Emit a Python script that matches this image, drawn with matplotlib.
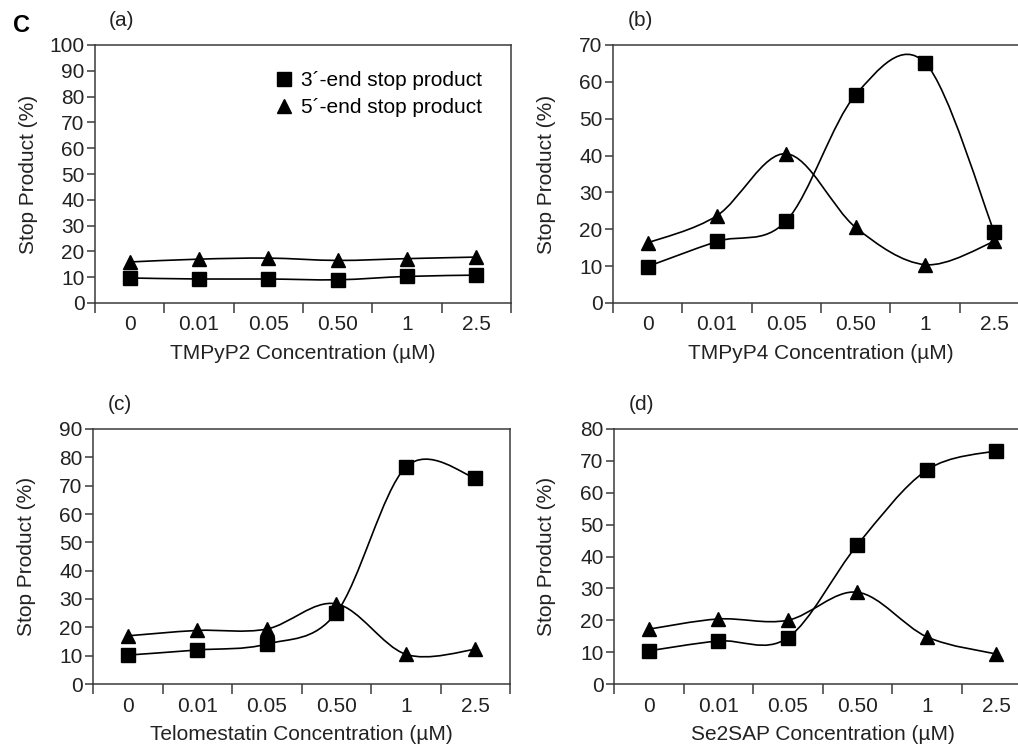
import matplotlib

matplotlib.use("Agg")
import matplotlib.pyplot as plt
import numpy as np
from matplotlib.path import Path
from matplotlib.patches import PathPatch

plt.rcParams["font.family"] = ["Liberation Sans", "DejaVu Sans"]
plt.rcParams["font.size"] = 15

# categories shared by all four panels
conc_labels = ["0", "0.01", "0.05", "0.50", "1", "2.5"]

# (a) TMPyP2
tmpyp2_3end = [9.7, 9.3, 9.3, 9.0, 10.3, 10.8]
tmpyp2_5end = [15.9, 17.0, 17.4, 16.5, 17.2, 17.8]
# (b) TMPyP4
tmpyp4_3end = [9.9, 16.7, 22.3, 56.5, 65.2, 19.2]
tmpyp4_5end = [16.3, 23.7, 40.5, 20.5, 10.4, 16.7]
# (c) Telomestatin
telo_3end = [10.2, 12.0, 14.1, 25.1, 76.5, 72.8]
telo_5end = [17.0, 18.9, 19.4, 28.3, 10.5, 12.2]
# (d) Se2SAP
se2sap_3end = [10.4, 13.5, 14.5, 43.6, 67.1, 73.2]
se2sap_5end = [17.2, 20.4, 20.0, 28.8, 14.8, 9.4]

panels = [
    ("(a)", "TMPyP2 Concentration (µM)", tmpyp2_3end, tmpyp2_5end, 100),
    ("(b)", "TMPyP4 Concentration (µM)", tmpyp4_3end, tmpyp4_5end, 70),
    ("(c)", "Telomestatin Concentration (µM)", telo_3end, telo_5end, 90),
    ("(d)", "Se2SAP Concentration (µM)", se2sap_3end, se2sap_5end, 80),
]

# layout in figure pixels: axes box (left, top, right, bottom), y-label centre x
W, H = 1018, 744
boxes = [(95, 45, 511, 303), (613, 45, 1029, 303),
         (93, 429, 510, 684), (614, 429, 1031, 684)]
ylab_x = [29, 547, 27, 547]
XLAB_GAP = 41   # axis bottom -> top of x-label box

SPINE = "#3a3a3a"
TEXT = "#222222"


def smooth_patch(x, y):
    """Catmull-Rom style smoothed line through the points, drawn as cubic Beziers."""
    p = np.column_stack([x, y]).astype(float)
    n = len(p)
    verts = [p[0]]
    codes = [Path.MOVETO]
    for i in range(n - 1):
        p0 = p[i - 1] if i > 0 else p[i]
        p3 = p[i + 2] if i + 2 < n else p[i + 1]
        c1 = p[i] + (p[i + 1] - p0) / 6
        c2 = p[i + 1] - (p3 - p[i]) / 6
        verts += [c1, c2, p[i + 1]]
        codes += [Path.CURVE4] * 3
    return PathPatch(Path(verts, codes), fill=False, lw=1.2, ec="black", zorder=2)


fig = plt.figure(figsize=(W / 100, H / 100), dpi=100)

for k, ((tag, xlabel, s3, s5, ymax), (l, t, r, b)) in enumerate(zip(panels, boxes)):
    ax = fig.add_axes([l / W, 1 - b / H, (r - l) / W, (b - t) / H])
    xs = np.arange(len(conc_labels))
    ax.add_patch(smooth_patch(xs, s3))
    ax.add_patch(smooth_patch(xs, s5))
    ax.plot(xs, s3, ls="none", marker="s", ms=9.5, color="black", zorder=3,
            label="3´-end stop product")
    ax.plot(xs, s5, ls="none", marker="^", ms=10, color="black", zorder=3,
            label="5´-end stop product")

    ax.set_xlim(-0.5, len(conc_labels) - 0.5)
    ax.set_ylim(0, ymax)
    ax.set_yticks(np.arange(0, ymax + 1, 10))
    ax.set_xticks(xs)
    ax.set_xticklabels(conc_labels, color=TEXT)
    ax.set_xticks(np.arange(-0.5, len(conc_labels)), minor=True)
    ax.tick_params(axis="x", which="major", length=0, pad=9)
    ax.tick_params(axis="x", which="minor", length=7.5, width=1.1, color=SPINE)
    ax.tick_params(axis="y", length=6, width=1.1, color=SPINE, pad=1.5, labelcolor=TEXT)
    for sp in ax.spines.values():
        sp.set_color(SPINE)
        sp.set_linewidth(1.1)
    ax.set_ylabel("Stop Product (%)", color=TEXT, va="center")
    ax.yaxis.set_label_coords((ylab_x[k] - l) / (r - l), 0.5)
    ax.set_xlabel(xlabel, color=TEXT, va="top")
    ax.xaxis.set_label_coords(0.5, -XLAB_GAP / (b - t))
    fig.text((l + 27) / W, 1 - (t - 25) / H, tag, ha="center", va="center",
             color=TEXT)
    if tag == "(a)":
        ax.legend(loc="upper right", bbox_to_anchor=(0.93, 0.9), frameon=False,
                  handlelength=0.6, handletextpad=0.5, labelspacing=0.4,
                  borderaxespad=0, borderpad=0)

fig.text(21 / W, 1 - 25 / H, "C", ha="center", va="center", fontsize=17,
         fontweight="bold", color="black")

fig.savefig("out.png", dpi=100)
